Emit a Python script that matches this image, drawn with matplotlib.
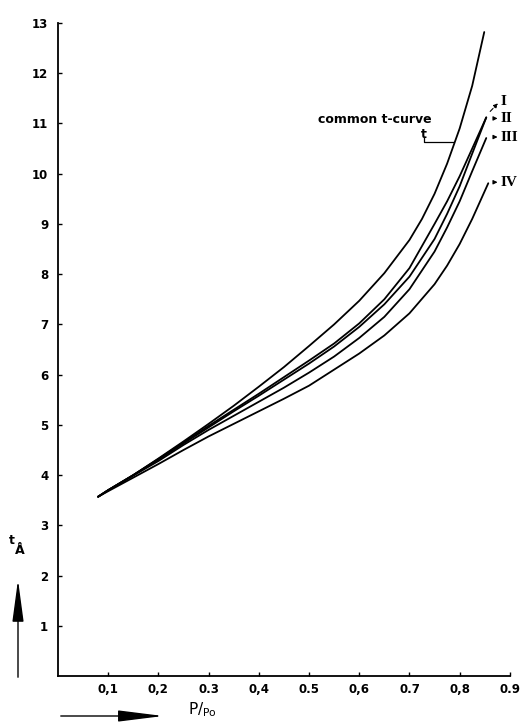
import numpy as np
import matplotlib
matplotlib.use('Agg')
import matplotlib.pyplot as plt

# values (P/Po vs t in Angstrom)
x_common = [0.08, 0.10, 0.15, 0.20, 0.25, 0.30, 0.35, 0.40, 0.45, 0.50, 0.55, 0.60, 0.65, 0.70, 0.725, 0.75, 0.775, 0.80, 0.825, 0.849]
t_common = [3.57, 3.70, 4.00, 4.33, 4.67, 5.02, 5.38, 5.76, 6.15, 6.57, 7.00, 7.47, 8.02, 8.68, 9.10, 9.60, 10.20, 10.90, 11.75, 12.82]

x_I = [0.08, 0.10, 0.15, 0.20, 0.25, 0.30, 0.35, 0.40, 0.45, 0.50, 0.55, 0.60, 0.65, 0.70, 0.75, 0.775, 0.80, 0.825, 0.853]
t_I = [3.57, 3.70, 4.00, 4.32, 4.65, 4.98, 5.30, 5.62, 5.95, 6.28, 6.62, 7.02, 7.50, 8.12, 9.00, 9.45, 9.95, 10.50, 11.12]

x_II = [0.08, 0.10, 0.15, 0.20, 0.25, 0.30, 0.35, 0.40, 0.45, 0.50, 0.55, 0.60, 0.65, 0.70, 0.75, 0.775, 0.80, 0.825, 0.853]
t_II = [3.57, 3.70, 4.00, 4.31, 4.63, 4.95, 5.27, 5.58, 5.90, 6.22, 6.56, 6.95, 7.40, 7.95, 8.70, 9.20, 9.75, 10.40, 11.12]

x_III = [0.08, 0.10, 0.15, 0.20, 0.25, 0.30, 0.35, 0.40, 0.45, 0.50, 0.55, 0.60, 0.65, 0.70, 0.75, 0.775, 0.80, 0.825, 0.853]
t_III = [3.57, 3.70, 3.99, 4.28, 4.60, 4.90, 5.18, 5.46, 5.74, 6.04, 6.36, 6.73, 7.15, 7.70, 8.45, 8.93, 9.45, 10.05, 10.71]

x_IV = [0.08, 0.10, 0.15, 0.20, 0.25, 0.30, 0.35, 0.40, 0.45, 0.50, 0.55, 0.60, 0.65, 0.70, 0.75, 0.775, 0.80, 0.825, 0.857]
t_IV = [3.57, 3.68, 3.95, 4.22, 4.50, 4.77, 5.02, 5.27, 5.52, 5.78, 6.10, 6.42, 6.78, 7.22, 7.80, 8.17, 8.60, 9.10, 9.81]

x_ticks = [0.1, 0.2, 0.3, 0.4, 0.5, 0.6, 0.7, 0.8, 0.9]
x_tick_labels = ['0,1', '0,2', '0.3', '0,4', '0.5', '0,6', '0.7', '0,8', '0.9']
y_ticks = [1, 2, 3, 4, 5, 6, 7, 8, 9, 10, 11, 12, 13]

curve_labels = ['I', 'II', 'III', 'IV']
label_t = [11.44, 11.10, 10.73, 9.83]

fig = plt.figure(figsize=(5.2, 7.28), dpi=100)
ax = fig.add_axes([0.1115, 0.0714, 0.869, 0.897])

for xs, ts in [(x_common, t_common), (x_I, t_I), (x_II, t_II), (x_III, t_III), (x_IV, t_IV)]:
    ax.plot(xs, ts, color='black', lw=1.3, solid_capstyle='round', solid_joinstyle='round')

ax.set_xlim(0, 0.9)
ax.set_ylim(0, 13)
ax.spines['top'].set_visible(False)
ax.spines['right'].set_visible(False)
ax.spines['left'].set_linewidth(1.3)
ax.spines['bottom'].set_linewidth(1.3)
ax.set_xticks(x_ticks)
ax.set_xticklabels(x_tick_labels)
ax.set_yticks(y_ticks)
ax.tick_params(direction='in', length=3, width=1, labelsize=8.5, pad=5)
ax.tick_params(axis='y', pad=7)
for lab in ax.get_xticklabels() + ax.get_yticklabels():
    lab.set_fontweight('bold')

# curve annotation
ax.text(0.518, 11.08, 'common t-curve', fontsize=9, fontweight='bold', va='center', ha='left')
ax.text(0.728, 10.78, 't', fontsize=9, fontweight='bold', va='center', ha='center')
ax.plot([0.728, 0.728, 0.787], [10.72, 10.63, 10.63], color='black', lw=0.9)

# roman numeral labels with small arrows
ax.annotate('', xy=(0.880, 11.44), xytext=(0.857, 11.2),
            arrowprops=dict(arrowstyle='-|>', color='black', lw=0.8, ls='--',
                            mutation_scale=6))
for lab, t in zip(curve_labels[1:], label_t[1:]):
    ax.annotate('', xy=(0.881, t), xytext=(0.862, t),
                arrowprops=dict(arrowstyle='-|>', color='black', lw=0.8, mutation_scale=6))
for lab, t in zip(curve_labels, label_t):
    ax.text(0.882, t, lab, fontsize=11, family='Liberation Serif', fontweight='bold',
            va='center', ha='left', clip_on=False)

# axis labels with arrows
fig.text(12 / 520, 1 - 540 / 728, 't', fontsize=9, fontweight='bold', ha='center', va='center')
fig.text(20 / 520, 1 - 550 / 728, 'Å', fontsize=9, fontweight='bold', ha='center', va='center')
ax.annotate('', xy=(18, 728 - 577), xytext=(18, 728 - 680), xycoords='figure pixels',
            textcoords='figure pixels',
            arrowprops=dict(arrowstyle='-|>,head_length=2.6,head_width=0.35', color='black',
                            lw=1.0, mutation_scale=10))
ax.annotate('', xy=(166, 728 - 716), xytext=(58, 728 - 716), xycoords='figure pixels',
            textcoords='figure pixels',
            arrowprops=dict(arrowstyle='-|>,head_length=2.8,head_width=0.35', color='black',
                            lw=1.0, mutation_scale=10))
fig.text(188 / 520, 1 - 710 / 728, r'P/$_{\mathrm{Po}}$', fontsize=11, ha='left', va='center')

plt.savefig('out.png', dpi=100)
plt.close()
